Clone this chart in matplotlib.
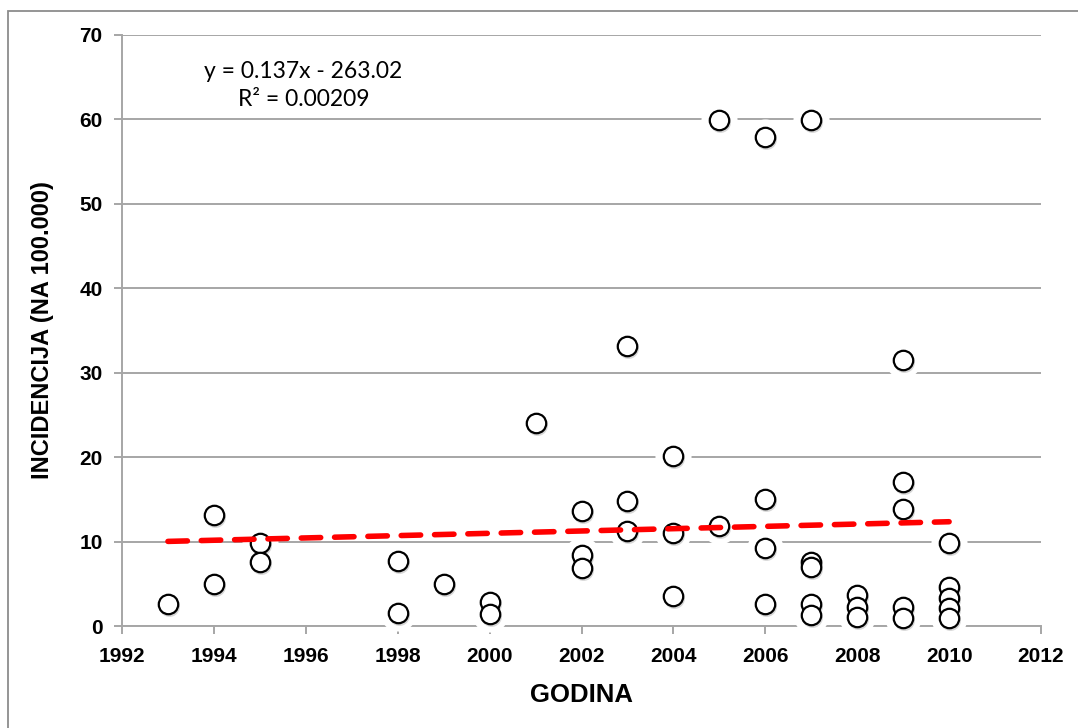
import matplotlib
matplotlib.use("Agg")
import matplotlib.pyplot as plt
import matplotlib.transforms as mtransforms
from matplotlib.patches import Rectangle

# incidence per 100.000 by year
years = [1993,
         1994, 1994,
         1995, 1995,
         1998, 1998,
         1999,
         2000, 2000,
         2001,
         2002, 2002, 2002,
         2003, 2003, 2003,
         2004, 2004, 2004,
         2005, 2005,
         2006, 2006, 2006, 2006,
         2007, 2007, 2007, 2007, 2007,
         2008, 2008, 2008,
         2009, 2009, 2009, 2009, 2009,
         2010, 2010, 2010, 2010, 2010]
incidence = [2.6,
             13.1, 5.0,
             9.8, 7.6,
             7.7, 1.5,
             5.0,
             2.8, 1.4,
             24.0,
             13.6, 8.4, 6.9,
             33.2, 14.8, 11.3,
             20.1, 11.0, 3.6,
             59.9, 11.8,
             57.9, 15.0, 9.2, 2.6,
             59.9, 7.6, 7.0, 2.6, 1.3,
             3.7, 2.3, 1.1,
             31.5, 17.1, 13.9, 2.3, 1.0,
             9.8, 4.6, 3.3, 2.1, 0.9]

# linear trend as reported
slope = 0.137
intercept = -263.02
r2 = 0.00209
trend_x = [min(years), max(years)]
trend_y = [slope * x + intercept for x in trend_x]

x_ticks = list(range(1992, 2013, 2))
y_ticks = list(range(0, 71, 10))

GRID = "#a6a6a6"
BOLD_FONT = "Liberation Sans"

fig = plt.figure(figsize=(10.78, 7.28), dpi=100)
ax = fig.add_axes([122 / 1078, 1 - 626 / 728, (1041 - 122) / 1078, (626 - 35) / 728])

# outer chart frame
fig.patches.append(Rectangle((8 / 1078, -0.05), 1.1, 1 - 11 / 728 + 0.05,
                             transform=fig.transFigure, fill=False,
                             edgecolor="#8c8c8c", linewidth=1.3))

ax.set_xlim(1992, 2012)
ax.set_ylim(0, 70)
ax.set_xticks(x_ticks)
ax.set_yticks(y_ticks)
ax.yaxis.grid(True, color=GRID, linewidth=1.4, zorder=0)
ax.set_axisbelow(True)

for side in ["top", "right"]:
    ax.spines[side].set_visible(False)
for side in ["left", "bottom"]:
    ax.spines[side].set_color(GRID)
    ax.spines[side].set_linewidth(1.4)

ax.tick_params(axis="both", direction="out", length=6, width=1.4, color=GRID,
               labelsize=15, pad=8)
ax.tick_params(axis="x", pad=9)
for lab in ax.get_xticklabels() + ax.get_yticklabels():
    lab.set_fontfamily(BOLD_FONT)
    lab.set_fontweight("bold")

# white halo behind each marker, then a soft shadow, then the circle
ax.plot(years, incidence, "o", markersize=26, color="white",
        markeredgewidth=0, linestyle="none", zorder=3, clip_on=False)
shadow = mtransforms.offset_copy(ax.transData, fig=fig, x=1, y=-2, units="dots")
ax.plot(years, incidence, "o", markersize=15, color="#b0b0b0", alpha=0.5,
        markeredgewidth=0, linestyle="none", zorder=4, transform=shadow,
        clip_on=False)
ax.plot(years, incidence, "o", markersize=14, markerfacecolor="white",
        markeredgecolor="black", markeredgewidth=1.6, linestyle="none",
        zorder=5, clip_on=False)

ax.plot(trend_x, trend_y, color="#ff0000", linewidth=4, dashes=(3.5, 2.5),
        solid_capstyle="round", dash_capstyle="round", zorder=6)

ax.text(1995.95, 64.0, f"y = {slope}x - {abs(intercept)}\nR² = {r2}",
        ha="center", va="center", multialignment="center",
        fontsize=16.5, fontfamily="Lato", linespacing=1.4, zorder=7)

ax.set_xlabel("GODINA", fontsize=18.5, fontfamily=BOLD_FONT, fontweight="bold",
              labelpad=12)
ax.set_ylabel("INCIDENCIJA (NA 100.000)", fontsize=17, fontfamily=BOLD_FONT,
              fontweight="bold", labelpad=18)

fig.savefig("out.png", dpi=100)
